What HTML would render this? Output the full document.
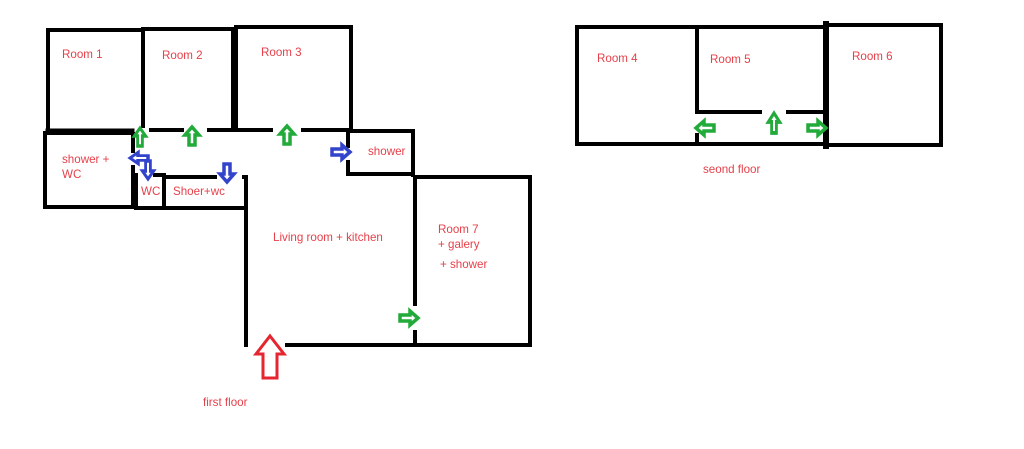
<!DOCTYPE html>
<html><head><meta charset="utf-8"><style>
html,body{margin:0;padding:0;background:#fff;}
svg{display:block;}
text{font-family:"Liberation Sans",sans-serif;font-size:11.6px;fill:#e6404a;}
</style></head><body>
<svg width="1024" height="449" viewBox="0 0 1024 449" xmlns="http://www.w3.org/2000/svg">
<defs>
<polygon id="ar" points="0,-9 7,-1 3,-1 3,9 -3,9 -3,-1 -7,-1" fill="#fff" stroke-width="3.5" stroke-linejoin="miter"/>
</defs>
<g stroke="#000" stroke-width="4" fill="none" stroke-linecap="square">
<polyline points="48,130 48,30 143,30 143,126"/>
<line x1="48" y1="131" x2="132" y2="131" stroke-width="5"/>
<polyline points="143,29 233,29 233,129"/>
<polyline points="236,129 236,27 351,27 351,130"/>
<line x1="151" y1="130" x2="182" y2="130"/>
<line x1="209" y1="130" x2="233" y2="130"/>
<line x1="236" y1="130" x2="271" y2="130"/>
<line x1="303" y1="130" x2="350" y2="130"/>
<polyline points="132,133 45,133 45,207 132,207"/>
<line x1="133" y1="134" x2="133" y2="151"/>
<line x1="133" y1="167" x2="133" y2="207"/>
<line x1="136" y1="175" x2="136" y2="207"/>
<line x1="155" y1="175" x2="164" y2="175"/>
<line x1="164" y1="176" x2="164" y2="208"/>
<line x1="136" y1="208" x2="245" y2="208"/>
<line x1="165" y1="177" x2="215" y2="177"/>
<line x1="244" y1="177" x2="246" y2="177"/>
<line x1="246" y1="178" x2="246" y2="345"/>
<line x1="287" y1="345" x2="415" y2="345"/>
<polyline points="348,131 413,131 413,175"/>
<line x1="348" y1="131" x2="348" y2="146"/>
<line x1="348" y1="162" x2="348" y2="174"/>
<line x1="348" y1="174" x2="412" y2="174"/>
<polyline points="415,177 530,177 530,345 415,345"/>
<line x1="415" y1="177" x2="415" y2="304"/>
<line x1="415" y1="332" x2="415" y2="345"/>
<polyline points="577,27 826,27"/>
<line x1="577" y1="27" x2="577" y2="144"/>
<line x1="577" y1="144" x2="826" y2="144"/>
<line x1="697" y1="27" x2="697" y2="112"/>
<line x1="697" y1="135" x2="697" y2="144"/>
<line x1="697" y1="112" x2="760" y2="112"/>
<line x1="788" y1="112" x2="826" y2="112"/>
<line x1="826" y1="24" x2="826" y2="146" stroke-width="6"/>
<polyline points="826,25 941,25 941,145 826,145"/>
</g>
<g stroke="#22aa3a">
<use href="#ar" transform="translate(140,137) scale(0.8,1)"/>
<use href="#ar" transform="translate(192,136)"/>
<use href="#ar" transform="translate(287,135)"/>
<use href="#ar" transform="translate(409,318) rotate(90)"/>
<use href="#ar" transform="translate(705,128) rotate(-90)"/>
<use href="#ar" transform="translate(774,123) scale(0.8,1.1)"/>
<use href="#ar" transform="translate(817,128) rotate(90)"/>
</g>
<g stroke="#3344cc">
<use href="#ar" transform="translate(341,152) rotate(90)"/>
<use href="#ar" transform="translate(139,158) rotate(-90) scale(0.8,1)"/>
<use href="#ar" transform="translate(148,170) rotate(180) scale(0.8,1)"/>
<use href="#ar" transform="translate(227,173) rotate(180)"/>
</g>
<polygon points="270,336 284,354 277,354 277,378 263,378 263,354 256,354" fill="#fff" stroke="#e52530" stroke-width="3"/>
<text x="62" y="58">Room 1</text>
<text x="162" y="59">Room 2</text>
<text x="261" y="56">Room 3</text>
<text x="62" y="163">shower +</text>
<text x="62" y="178">WC</text>
<text x="141" y="195">WC</text>
<text x="173" y="195">Shoer+wc</text>
<text x="368" y="155">shower</text>
<text x="273" y="241">Living room + kitchen</text>
<text x="438" y="233">Room 7</text>
<text x="438" y="248">+ galery</text>
<text x="440" y="268">+ shower</text>
<text x="203" y="406">first floor</text>
<text x="597" y="62">Room 4</text>
<text x="710" y="63">Room 5</text>
<text x="852" y="60">Room 6</text>
<text x="703" y="173">seond floor</text>
</svg>
</body></html>
